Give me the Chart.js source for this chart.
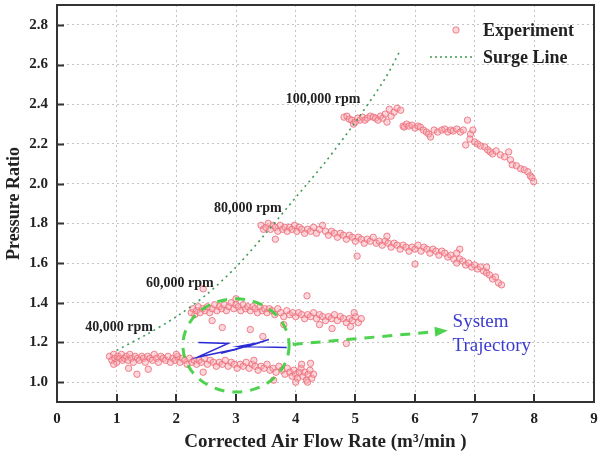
<!DOCTYPE html>
<html>
<head>
<meta charset="utf-8">
<script src="https://cdn.jsdelivr.net/npm/chart.js@4.4.0/dist/chart.umd.min.js"></script>
<style>
  html, body { margin: 0; padding: 0; background: #fff; }
  #wrap { width: 612px; height: 457px; }
</style>
</head>
<body>
<div id="wrap"><canvas id="mapChart" width="612" height="457"></canvas></div>
<script>
// axis ticks
const xTicks = [0, 1, 2, 3, 4, 5, 6, 7, 8, 9];
const yTicks = [1.0, 1.2, 1.4, 1.6, 1.8, 2.0, 2.2, 2.4, 2.6, 2.8];

// measured points, [flow, pressure ratio]
const exp40k = [
  [0.88,1.13],[0.92,1.11],[0.95,1.14],[0.97,1.12],[1.0,1.10],[1.02,1.13],[1.05,1.12],[1.08,1.14],
  [1.1,1.11],[1.13,1.12],[1.16,1.13],[1.19,1.11],[1.22,1.14],[1.25,1.12],[1.28,1.10],[1.31,1.13],
  [1.35,1.12],[1.38,1.11],[1.42,1.13],[1.45,1.12],[1.48,1.10],[1.52,1.13],[1.56,1.12],[1.6,1.11],
  [1.63,1.14],[1.67,1.12],[1.7,1.10],[1.74,1.13],[1.78,1.12],[1.82,1.11],[1.86,1.13],[1.9,1.10],
  [1.94,1.12],[1.98,1.11],[2.02,1.13],[2.06,1.10],[2.1,1.12],[2.14,1.11],[2.18,1.09],[2.22,1.12],
  [2.26,1.10],[2.3,1.11],[2.34,1.09],[2.38,1.11],[2.42,1.10],[2.47,1.12],[2.52,1.09],[2.57,1.11],
  [2.62,1.10],[2.67,1.08],[2.72,1.10],[2.77,1.09],[2.82,1.11],[2.87,1.08],[2.92,1.10],[2.97,1.09],
  [3.02,1.07],[3.07,1.09],[3.12,1.08],[3.17,1.10],[3.22,1.07],[3.27,1.09],[3.32,1.08],[3.37,1.06],
  [3.42,1.08],[3.47,1.07],[3.52,1.09],[3.57,1.06],[3.62,1.07],[3.67,1.05],[3.72,1.08],[3.77,1.06],
  [3.82,1.04],[3.86,1.07],[3.9,1.05],[3.94,1.03],[3.97,1.06],[4.0,1.04],[4.03,1.02],[4.06,1.05],
  [4.09,1.07],[4.12,1.03],[4.15,1.05],[4.18,1.01],[4.21,1.04],[4.24,1.06],[4.27,1.02],[4.3,1.04],
  [4.25,1.095],[4.1,1.09],[3.63,1.01],[1.34,1.04],[1.53,1.065],[2.45,1.05],[1.2,1.07],[0.95,1.09],
  [3.3,1.11],[2.0,1.14],[4.0,1.0],[4.2,1.0]
];
const exp60k = [
  [2.25,1.35],[2.28,1.37],[2.31,1.34],[2.34,1.36],[2.37,1.38],[2.4,1.35],[2.44,1.37],[2.48,1.36],
  [2.52,1.38],[2.56,1.35],[2.6,1.37],[2.64,1.39],[2.68,1.36],[2.72,1.38],[2.76,1.37],[2.8,1.39],
  [2.84,1.36],[2.88,1.38],[2.92,1.40],[2.96,1.37],[3.0,1.39],[3.04,1.38],[3.08,1.36],[3.12,1.39],
  [3.16,1.37],[3.2,1.38],[3.24,1.36],[3.28,1.38],[3.32,1.37],[3.36,1.35],[3.4,1.38],[3.44,1.36],
  [3.48,1.37],[3.52,1.35],[3.56,1.37],[3.6,1.36],[3.65,1.34],[3.7,1.37],[3.75,1.35],[3.8,1.33],
  [3.85,1.36],[3.9,1.34],[3.95,1.35],[4.0,1.33],[4.05,1.35],[4.1,1.34],[4.15,1.32],[4.2,1.34],
  [4.25,1.33],[4.3,1.35],[4.35,1.32],[4.4,1.34],[4.45,1.33],[4.5,1.31],[4.55,1.33],[4.6,1.32],
  [4.65,1.34],[4.7,1.31],[4.75,1.33],[4.8,1.32],[4.85,1.30],[4.9,1.32],[4.95,1.31],[5.0,1.33],
  [5.05,1.30],[5.1,1.32],[4.92,1.28],[4.98,1.35],[2.45,1.47],[2.77,1.275],[3.24,1.265],[4.19,1.435],
  [3.45,1.23],[4.61,1.27],[4.85,1.195],[3.0,1.42],[2.6,1.31],[3.8,1.29],[4.4,1.29]
];
const exp80k = [
  [3.42,1.79],[3.46,1.77],[3.5,1.78],[3.54,1.80],[3.58,1.77],[3.62,1.79],[3.66,1.78],[3.7,1.76],
  [3.74,1.79],[3.78,1.77],[3.82,1.78],[3.86,1.76],[3.9,1.78],[3.94,1.77],[3.98,1.79],[4.02,1.76],
  [4.06,1.78],[4.1,1.77],[4.15,1.75],[4.2,1.77],[4.25,1.76],[4.3,1.78],[4.35,1.75],[4.4,1.77],
  [4.5,1.76],[4.55,1.74],[4.6,1.76],[4.65,1.75],[4.7,1.73],[4.75,1.75],[4.8,1.74],[4.85,1.72],
  [4.9,1.74],[4.95,1.73],[5.0,1.71],[5.05,1.73],[5.1,1.72],[5.15,1.70],[5.2,1.72],[5.25,1.71],
  [5.3,1.73],[5.35,1.70],[5.4,1.71],[5.45,1.69],[5.5,1.71],[5.55,1.70],[5.6,1.68],[5.65,1.70],
  [5.7,1.69],[5.75,1.67],[5.8,1.69],[5.85,1.68],[5.9,1.66],[5.95,1.68],[6.0,1.67],[6.05,1.69],
  [6.1,1.66],[6.15,1.68],[6.2,1.67],[6.25,1.65],[6.3,1.67],[6.35,1.66],[6.4,1.64],[6.45,1.66],
  [6.5,1.65],[6.55,1.63],[6.6,1.64],[6.65,1.62],[6.7,1.60],[6.75,1.62],[6.8,1.61],[6.85,1.59],
  [6.9,1.60],[6.95,1.58],[7.0,1.59],[7.05,1.57],[7.1,1.58],[7.15,1.56],[7.2,1.55],[7.25,1.54],
  [7.3,1.52],[7.35,1.53],[7.4,1.50],[7.45,1.49],[3.66,1.72],[5.03,1.635],[5.53,1.735],[6.0,1.595],
  [6.75,1.67],[4.45,1.79],[6.7,1.65],[7.2,1.58]
];
const exp100k = [
  [4.81,2.335],[4.86,2.34],[4.9,2.325],[4.94,2.32],[4.97,2.30],[5.0,2.31],[5.04,2.33],[5.08,2.32],
  [5.12,2.335],[5.16,2.32],[5.2,2.33],[5.25,2.34],[5.3,2.335],[5.34,2.33],[5.38,2.32],[5.42,2.34],
  [5.46,2.33],[5.5,2.35],[5.53,2.31],[5.57,2.375],[5.6,2.34],[5.65,2.36],[5.7,2.38],[5.76,2.37],
  [5.8,2.29],[5.82,2.285],[5.86,2.30],[5.9,2.29],[5.95,2.295],[6.0,2.28],[6.05,2.29],[6.09,2.285],
  [6.14,2.27],[6.19,2.26],[6.23,2.25],[6.26,2.235],[6.32,2.27],[6.38,2.26],[6.45,2.27],[6.5,2.275],
  [6.55,2.26],[6.6,2.27],[6.64,2.265],[6.7,2.275],[6.76,2.26],[6.81,2.27],[6.88,2.32],[6.93,2.25],
  [6.97,2.27],[6.85,2.195],[6.92,2.225],[7.0,2.21],[7.05,2.2],[7.1,2.19],[7.17,2.185],[7.22,2.17],
  [7.26,2.16],[7.3,2.15],[7.36,2.165],[7.43,2.145],[7.5,2.135],[7.57,2.16],[7.6,2.12],[7.63,2.095],
  [7.7,2.09],[7.77,2.075],[7.83,2.07],[7.89,2.06],[7.93,2.04],[7.96,2.03],[7.99,2.01]
];

// surge line through the stall points
const surgeX = [1.0, 1.5, 2.0, 2.5, 3.0, 3.5, 4.0, 4.5, 5.0, 5.5, 5.75];
const surgeY = [1.16, 1.24, 1.33, 1.44, 1.58, 1.75, 1.93, 2.11, 2.31, 2.53, 2.67];

// blue zig-zag of the system trajectory
const trajX = [2.37, 2.87, 2.35, 3.05, 2.75, 3.25, 2.95, 3.55, 3.15, 3.4, 3.05, 3.85];
const trajY = [1.20, 1.195, 1.125, 1.17, 1.145, 1.19, 1.16, 1.215, 1.175, 1.2, 1.18, 1.175];

// annotations (data units)
const speedLabels = ['100,000 rpm', '80,000 rpm', '60,000 rpm', '40,000 rpm'];
const speedLabelPos = [[4.46, 2.425], [3.2, 1.875], [2.06, 1.5], [1.04, 1.275]];
const circle = [3.0, 1.185, 0.89, 0.235];      // cx, cy, rx, ry
const arrow = [[3.95, 1.19], [6.55, 1.26]];
const trajText = ['System', 'Trajectory'];
const trajTextPos = [6.63, 1.305];

const SERIF = '"Liberation Serif", "Times New Roman", serif';
const PINK_FILL = 'rgba(248,165,172,0.45)';
const PINK_LINE = 'rgba(236,110,122,0.85)';
const SURGE = '#3f9a55';
const BRIGHT_GREEN = 'rgba(60,205,60,0.9)';

const toPts = arr => arr.map(p => ({ x: p[0], y: p[1] }));

function scatterSet(arr) {
  return {
    data: toPts(arr),
    showLine: false,
    pointRadius: 3.2,
    pointBackgroundColor: PINK_FILL,
    pointBorderColor: PINK_LINE,
    pointBorderWidth: 1
  };
}

// extra drawing: circle, arrow, labels, legend, frame, inward ticks
const overlay = {
  id: 'overlay',
  afterDatasetsDraw(chart) {
    const { ctx, scales: { x, y } } = chart;
    ctx.save();

    // dashed green ellipse
    const cx = x.getPixelForValue(circle[0]);
    const cy = y.getPixelForValue(circle[1]);
    const rx = x.getPixelForValue(circle[0] + circle[2]) - cx;
    const ry = cy - y.getPixelForValue(circle[1] + circle[3]);
    ctx.strokeStyle = BRIGHT_GREEN;
    ctx.lineWidth = 3;
    ctx.setLineDash([10, 8]);
    ctx.beginPath();
    ctx.ellipse(cx, cy, rx, ry, 0, 0, Math.PI * 2);
    ctx.stroke();

    // dashed arrow
    const x1 = x.getPixelForValue(arrow[0][0]), y1 = y.getPixelForValue(arrow[0][1]);
    const x2 = x.getPixelForValue(arrow[1][0]), y2 = y.getPixelForValue(arrow[1][1]);
    const ang = Math.atan2(y2 - y1, x2 - x1);
    ctx.beginPath();
    ctx.moveTo(x1, y1);
    ctx.lineTo(x2 - 10 * Math.cos(ang), y2 - 10 * Math.sin(ang));
    ctx.stroke();
    ctx.setLineDash([]);
    ctx.fillStyle = BRIGHT_GREEN;
    ctx.beginPath();
    ctx.moveTo(x2, y2);
    ctx.lineTo(x2 - 13 * Math.cos(ang) + 5 * Math.sin(ang), y2 - 13 * Math.sin(ang) - 5 * Math.cos(ang));
    ctx.lineTo(x2 - 13 * Math.cos(ang) - 5 * Math.sin(ang), y2 - 13 * Math.sin(ang) + 5 * Math.cos(ang));
    ctx.closePath();
    ctx.fill();

    // rpm labels
    ctx.fillStyle = '#222';
    ctx.font = 'bold 14px ' + SERIF;
    ctx.textAlign = 'center';
    ctx.textBaseline = 'middle';
    speedLabels.forEach((t, i) => {
      ctx.fillText(t, x.getPixelForValue(speedLabelPos[i][0]), y.getPixelForValue(speedLabelPos[i][1]));
    });

    // system trajectory text
    ctx.fillStyle = '#3b3bd0';
    ctx.font = '19px ' + SERIF;
    ctx.textAlign = 'left';
    const tx = x.getPixelForValue(trajTextPos[0]);
    const ty = y.getPixelForValue(trajTextPos[1]);
    trajText.forEach((t, i) => ctx.fillText(t, tx, ty + i * 24));
    ctx.restore();
  },
  afterDraw(chart) {
    const { ctx, chartArea: a, scales: { x, y } } = chart;
    ctx.save();

    // inward tick marks
    ctx.strokeStyle = '#333';
    ctx.lineWidth = 2;
    ctx.beginPath();
    yTicks.forEach(v => {
      const py = Math.round(y.getPixelForValue(v)) + 0.5;
      ctx.moveTo(a.left, py);
      ctx.lineTo(a.left + 7, py);
    });
    xTicks.forEach(v => {
      const px = Math.round(x.getPixelForValue(v));
      ctx.moveTo(px, a.bottom);
      ctx.lineTo(px, a.bottom - 8);
    });
    ctx.stroke();

    // frame
    ctx.lineWidth = 2;
    ctx.strokeRect(a.left, a.top, a.right - a.left, a.bottom - a.top);

    // legend
    const lx = a.right - 138;
    ctx.fillStyle = PINK_FILL;
    ctx.strokeStyle = PINK_LINE;
    ctx.lineWidth = 1;
    ctx.beginPath();
    ctx.arc(lx, a.top + 25, 3.2, 0, Math.PI * 2);
    ctx.fill();
    ctx.stroke();
    ctx.strokeStyle = SURGE;
    ctx.lineWidth = 1.5;
    ctx.setLineDash([2, 3]);
    ctx.beginPath();
    ctx.moveTo(a.right - 164, a.top + 52);
    ctx.lineTo(a.right - 120, a.top + 52);
    ctx.stroke();
    ctx.setLineDash([]);
    ctx.fillStyle = '#222';
    ctx.font = 'bold 18px ' + SERIF;
    ctx.textAlign = 'left';
    ctx.textBaseline = 'middle';
    ctx.fillText('Experiment', a.right - 111, a.top + 26);
    ctx.fillText('Surge Line', a.right - 111, a.top + 53);
    ctx.restore();
  }
};

new Chart(document.getElementById('mapChart').getContext('2d'), {
  type: 'scatter',
  data: {
    datasets: [
      {
        label: 'System Trajectory',
        data: trajX.map((v, i) => ({ x: v, y: trajY[i] })),
        showLine: true,
        borderColor: '#2b2bd6',
        borderWidth: 1.5,
        pointRadius: 0,
        tension: 0
      },
      {
        label: 'Surge Line',
        data: surgeX.map((v, i) => ({ x: v, y: surgeY[i] })),
        showLine: true,
        borderColor: SURGE,
        borderWidth: 1.6,
        borderDash: [2, 4],
        pointRadius: 0,
        tension: 0.3
      },
      scatterSet(exp100k),
      scatterSet(exp80k),
      scatterSet(exp60k),
      scatterSet(exp40k)
    ]
  },
  options: {
    responsive: false,
    animation: false,
    devicePixelRatio: 1,
    layout: { padding: { top: 5, right: 18, left: 0, bottom: 0 } },
    plugins: {
      legend: { display: false },
      tooltip: { enabled: false }
    },
    scales: {
      x: {
        type: 'linear',
        min: 0,
        max: 9,
        afterBuildTicks: s => { s.ticks = xTicks.map(v => ({ value: v })); },
        afterFit: s => { s.height = 55; s.paddingLeft = 0; s.paddingRight = 0; },
        grid: { color: '#c4c4c4', lineWidth: 1, drawTicks: false },
        border: { display: false, dash: [2, 3] },
        ticks: {
          padding: 8,
          color: '#222',
          font: { family: SERIF, size: 15, weight: 'bold' }
        },
        title: {
          display: true,
          text: 'Corrected Air Flow Rate (m³/min )',
          color: '#222',
          font: { family: SERIF, size: 19, weight: 'bold' }
        }
      },
      y: {
        type: 'linear',
        min: 0.9,
        max: 2.9,
        afterBuildTicks: s => { s.ticks = yTicks.map(v => ({ value: v })); },
        afterFit: s => { s.width = 57; s.paddingTop = 0; s.paddingBottom = 0; },
        grid: { color: '#c4c4c4', lineWidth: 1, drawTicks: false },
        border: { display: false, dash: [2, 3] },
        ticks: {
          padding: 9,
          color: '#222',
          font: { family: SERIF, size: 15, weight: 'bold' },
          callback: v => v.toFixed(1)
        },
        title: {
          display: true,
          text: 'Pressure Ratio',
          color: '#222',
          font: { family: SERIF, size: 18, weight: 'bold' }
        }
      }
    }
  },
  plugins: [overlay]
});
</script>
</body>
</html>
